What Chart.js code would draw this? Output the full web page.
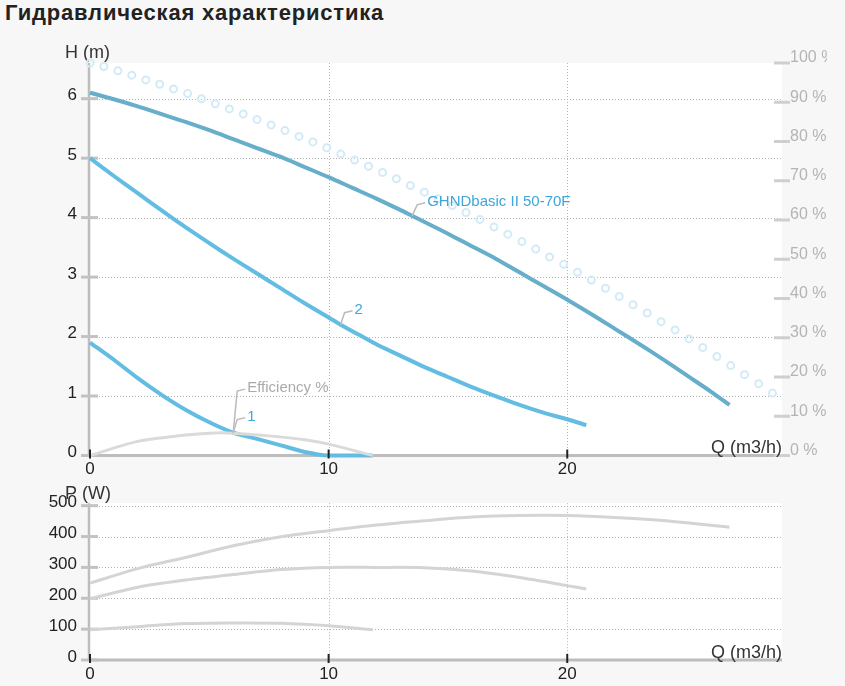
<!DOCTYPE html>
<html>
<head>
<meta charset="utf-8">
<script src="https://cdn.jsdelivr.net/npm/chart.js@4.4.1/dist/chart.umd.min.js"></script>
<style>
    html, body { margin: 0; padding: 0; background: #f7f7f7; }
    body { width: 845px; height: 686px; position: relative; overflow: hidden; font-family: 'Liberation Sans', Arial, sans-serif; }
    h1 { position: absolute; left: 5px; top: 0; margin: 0; font-size: 22px; letter-spacing: 0.8px; font-weight: bold; color: #222; white-space: nowrap; }
    #hChart { position: absolute; left: 0; top: 30px; }
    #pChart { position: absolute; left: 0; top: 480px; }
</style>
</head>
<body>
<h1>Гидравлическая характеристика</h1>
<canvas id="hChart" width="827" height="450"></canvas>
<canvas id="pChart" width="845" height="206"></canvas>
<script>
// Tick labels
const qTicks = [0, 10, 20];
const hTicks = [0, 1, 2, 3, 4, 5, 6];
const pctTicks = [0, 10, 20, 30, 40, 50, 60, 70, 80, 90, 100];
const pTicks = [0, 100, 200, 300, 400, 500];

// Pump curve GHNDbasic II 50-70F, H (m)
const qMax = [0, 1, 2, 3, 4, 5, 6, 7, 8, 9, 10, 11, 12, 13, 13.5, 14, 15, 16, 17, 18, 19, 20, 21, 22, 23, 24, 25, 26, 26.8];
const hMax = [6.10, 5.99, 5.87, 5.74, 5.61, 5.47, 5.32, 5.17, 5.02, 4.85, 4.68, 4.50, 4.32, 4.13, 4.03, 3.93, 3.73, 3.52, 3.31, 3.08, 2.85, 2.62, 2.38, 2.13, 1.88, 1.62, 1.35, 1.08, 0.85];

// Speed 2
const qSpeed2 = [0, 1, 2, 3, 4, 5, 6, 7, 8, 9, 10, 10.5, 11, 12, 13, 14, 15, 16, 17, 18, 19, 20, 20.8];
const hSpeed2 = [5.00, 4.70, 4.41, 4.12, 3.84, 3.57, 3.31, 3.06, 2.81, 2.56, 2.32, 2.20, 2.09, 1.87, 1.68, 1.49, 1.32, 1.15, 1.00, 0.85, 0.72, 0.61, 0.51];

// Speed 1
const qSpeed1 = [0, 1, 2, 3, 4, 5, 6, 7, 8, 9, 10, 11.85];
const hSpeed1 = [1.90, 1.61, 1.30, 1.02, 0.77, 0.56, 0.385, 0.28, 0.17, 0.06, 0, 0];

// Efficiency %
const qEff = [0, 2, 4, 5, 6, 7.5, 9, 10, 11.85];
const effPct = [0, 3.6, 5.2, 5.7, 5.7, 5.0, 4.0, 2.9, 0];

// Dotted curve (% axis)
const qDots = [0, 0.58, 1.17, 1.75, 2.34, 2.92, 3.50, 4.09, 4.67, 5.25, 5.84, 6.42, 7.00, 7.59, 8.17, 8.76, 9.34, 9.92, 10.51, 11.09,
    11.67, 12.26, 12.84, 13.43, 14.01, 14.59, 15.18, 15.76, 16.34, 16.93, 17.51, 18.10, 18.68, 19.26, 19.85, 20.43, 21.01, 21.60, 22.18, 22.76,
    23.35, 23.93, 24.52, 25.10, 25.68, 26.27, 26.85, 27.43, 28.02, 28.60];
const dotsPct = [100, 99.1, 98.0, 96.9, 95.7, 94.6, 93.4, 92.2, 90.9, 89.6, 88.3, 87.0, 85.6, 84.2, 82.8, 81.3, 79.9, 78.4, 76.8, 75.3,
    73.7, 72.1, 70.5, 68.8, 67.1, 65.4, 63.7, 61.9, 60.1, 58.2, 56.4, 54.5, 52.6, 50.6, 48.7, 46.7, 44.7, 42.6, 40.5, 38.4,
    36.3, 34.1, 32.0, 29.7, 27.5, 25.2, 22.9, 20.6, 18.3, 15.9];

// Power, P (W)
const qP1 = [0, 2, 4, 6, 8, 10, 12, 14, 16, 18, 20, 22, 24, 26.8];
const pP1 = [249, 296, 332, 370, 399, 419, 437, 451, 463, 468, 468, 462, 452, 430];
const qP2 = [0, 2, 4, 6, 8, 10, 12, 14, 16, 18, 20, 20.8];
const pP2 = [198, 236, 259, 277, 293, 300, 300, 299, 288, 267, 241, 230];
const qP3 = [0, 2, 4, 6, 8, 10, 11.85];
const pP3 = [98, 108, 118, 120, 119, 111, 98];

Chart.defaults.font.family = "'Liberation Sans', Arial, sans-serif";

function pts(xs, ys) {
    return xs.map((x, i) => ({ x: x, y: ys[i] }));
}

function setTicks(values) {
    return scale => { scale.ticks = values.map(v => ({ value: v })); };
}

// curve labels with a small leader line: dataset index, point index, offset of text
const curveLabels = [
    { text: 'GHNDbasic II 50-70F', ds: 2, idx: 14, dx: 15, dy: -14, color: '#3ea6da' },
    { text: '2', ds: 3, idx: 11, dx: 14, dy: -15, color: '#3ea6da' },
    { text: '1', ds: 4, idx: 6, dx: 14, dy: -16, color: '#3ea6da' },
    { text: 'Efficiency %', ds: 1, idx: 4, dx: 14, dy: -45, color: '#aaaaaa' }
];

// background, grid and axes drawn by hand
function framePlugin(opts) {
    return {
        id: 'frame',
        beforeDatasetsDraw(chart) {
            const ctx = chart.ctx;
            const a = chart.chartArea;
            const x = chart.scales.x;
            const y = chart.scales[opts.yId];
            ctx.save();
            ctx.fillStyle = '#ffffff';
            ctx.fillRect(a.left, a.top, a.right - a.left, a.bottom - a.top);

            // dotted grid
            ctx.strokeStyle = '#b4b4b4';
            ctx.lineWidth = 1;
            ctx.setLineDash([1, 2]);
            y.ticks.forEach(t => {
                if (t.value === 0) return;
                const py = Math.round(y.getPixelForValue(t.value)) + 0.5;
                ctx.beginPath();
                ctx.moveTo(a.left, py);
                ctx.lineTo(a.right, py);
                ctx.stroke();
            });
            x.ticks.forEach(t => {
                if (t.value === 0) return;
                const px = Math.round(x.getPixelForValue(t.value)) + 0.5;
                ctx.beginPath();
                ctx.moveTo(px, a.top);
                ctx.lineTo(px, a.bottom);
                ctx.stroke();
            });
            ctx.setLineDash([]);

            // axis lines
            ctx.strokeStyle = '#bdbdbd';
            ctx.lineWidth = 3;
            ctx.beginPath();
            ctx.moveTo(a.left, a.bottom);
            ctx.lineTo(a.right, a.bottom);
            ctx.stroke();
            ctx.lineWidth = 2.5;
            ctx.beginPath();
            ctx.moveTo(a.left - 1, a.top);
            ctx.lineTo(a.left - 1, a.bottom);
            ctx.stroke();

            // left tick marks
            ctx.strokeStyle = '#c2c2c2';
            ctx.lineWidth = 3;
            y.ticks.forEach(t => {
                const py = y.getPixelForValue(t.value);
                ctx.beginPath();
                ctx.moveTo(a.left - 9, py);
                ctx.lineTo(a.left + 8, py);
                ctx.stroke();
            });

            // right tick marks
            if (opts.rightId) {
                const r = chart.scales[opts.rightId];
                ctx.strokeStyle = '#cfcfcf';
                r.ticks.forEach(t => {
                    const py = r.getPixelForValue(t.value);
                    ctx.beginPath();
                    ctx.moveTo(a.right - 8, py);
                    ctx.lineTo(a.right + 8, py);
                    ctx.stroke();
                });
            }

            // axis titles
            ctx.fillStyle = '#333';
            ctx.font = "18px 'Liberation Sans', Arial, sans-serif";
            ctx.textBaseline = 'alphabetic';
            ctx.textAlign = 'left';
            ctx.fillText(opts.yTitle, a.left - 25, a.top - opts.titleLift);
            ctx.textAlign = 'right';
            ctx.fillText('Q (m3/h)', a.right, a.bottom - 2.5);
            ctx.restore();
        },
        afterDatasetsDraw(chart) {
            const ctx = chart.ctx;
            const a = chart.chartArea;
            const x = chart.scales.x;
            ctx.save();
            ctx.strokeStyle = '#222';
            ctx.lineWidth = 2;
            x.ticks.forEach(t => {
                const px = x.getPixelForValue(t.value);
                ctx.beginPath();
                ctx.moveTo(px, a.bottom - 6);
                ctx.lineTo(px, a.bottom + 3);
                ctx.stroke();
            });

            if (opts.labels) {
                ctx.font = "15px 'Liberation Sans', Arial, sans-serif";
                ctx.textAlign = 'left';
                ctx.textBaseline = 'middle';
                opts.labels.forEach(l => {
                    const el = chart.getDatasetMeta(l.ds).data[l.idx];
                    const tx = el.x + l.dx;
                    const ty = el.y + l.dy;
                    ctx.strokeStyle = '#bbbbbb';
                    ctx.lineWidth = 1.5;
                    ctx.beginPath();
                    ctx.moveTo(el.x, el.y);
                    ctx.lineTo(tx - 10, ty + 3);
                    ctx.lineTo(tx - 2, ty + 1);
                    ctx.stroke();
                    ctx.fillStyle = l.color;
                    ctx.fillText(l.text, tx, ty);
                });
            }
            ctx.restore();
        }
    };
}

function xScale(height) {
    return {
        type: 'linear',
        min: 0,
        max: 29,
        afterBuildTicks: setTicks(qTicks),
        afterFit: s => { s.height = height; },
        grid: { display: false, drawTicks: false },
        border: { display: false },
        ticks: { color: '#222', font: { size: 17 }, padding: 4, autoSkip: false, maxRotation: 0 }
    };
}

function leftScale(max, ticks) {
    return {
        type: 'linear',
        position: 'left',
        min: 0,
        max: max,
        afterBuildTicks: setTicks(ticks),
        afterFit: s => { s.width = 90; },
        grid: { display: false, drawTicks: false },
        border: { display: false },
        ticks: { color: '#222', font: { size: 17 }, padding: 13, labelOffset: -3 }
    };
}

const noPoint = { pointRadius: 0, pointHoverRadius: 0, fill: false, clip: false };

new Chart(document.getElementById('hChart'), {
    type: 'line',
    data: {
        datasets: [
            {
                data: pts(qDots, dotsPct), yAxisID: 'yPct', showLine: false,
                pointRadius: 3.5, pointBorderWidth: 2, pointBorderColor: '#d3ebf7',
                pointBackgroundColor: 'rgba(255,255,255,0)', clip: false
            },
            Object.assign({ data: pts(qEff, effPct), yAxisID: 'yPct', borderColor: '#dadada', borderWidth: 3, tension: 0.3 }, noPoint),
            Object.assign({ data: pts(qMax, hMax), yAxisID: 'yH', borderColor: '#67aecb', borderWidth: 4, tension: 0.3 }, noPoint),
            Object.assign({ data: pts(qSpeed2, hSpeed2), yAxisID: 'yH', borderColor: '#63bde3', borderWidth: 4, tension: 0.3 }, noPoint),
            Object.assign({ data: pts(qSpeed1, hSpeed1), yAxisID: 'yH', borderColor: '#63bde3', borderWidth: 4, tension: 0.3 }, noPoint)
        ]
    },
    options: {
        responsive: false,
        animation: false,
        layout: { padding: { top: 33, left: 0, right: 0, bottom: 0 } },
        plugins: { legend: { display: false }, tooltip: { enabled: false } },
        scales: {
            x: xScale(24.5),
            yH: leftScale(6.6, hTicks),
            yPct: {
                type: 'linear',
                position: 'right',
                min: 0,
                max: 100,
                afterBuildTicks: setTicks(pctTicks),
                afterFit: s => { s.width = 45; },
                grid: { display: false, drawTicks: false },
                border: { display: false },
                ticks: { color: '#b4b4b4', font: { size: 16 }, padding: 8, labelOffset: -5, callback: v => v + ' %' }
            }
        }
    },
    plugins: [framePlugin({ yId: 'yH', rightId: 'yPct', yTitle: 'H (m)', titleLift: 4.8, labels: curveLabels })]
});

new Chart(document.getElementById('pChart'), {
    type: 'line',
    data: {
        datasets: [
            Object.assign({ data: pts(qP1, pP1), borderColor: '#d4d4d4', borderWidth: 3, tension: 0.3 }, noPoint),
            Object.assign({ data: pts(qP2, pP2), borderColor: '#d4d4d4', borderWidth: 3, tension: 0.3 }, noPoint),
            Object.assign({ data: pts(qP3, pP3), borderColor: '#d4d4d4', borderWidth: 3, tension: 0.3 }, noPoint)
        ]
    },
    options: {
        responsive: false,
        animation: false,
        layout: { padding: { top: 23, left: 0, right: 63, bottom: 0 } },
        plugins: { legend: { display: false }, tooltip: { enabled: false } },
        scales: {
            x: xScale(26),
            y: leftScale(508, pTicks)
        }
    },
    plugins: [framePlugin({ yId: 'y', yTitle: 'P (W)', titleLift: 3.8 })]
});
</script>
</body>
</html>
